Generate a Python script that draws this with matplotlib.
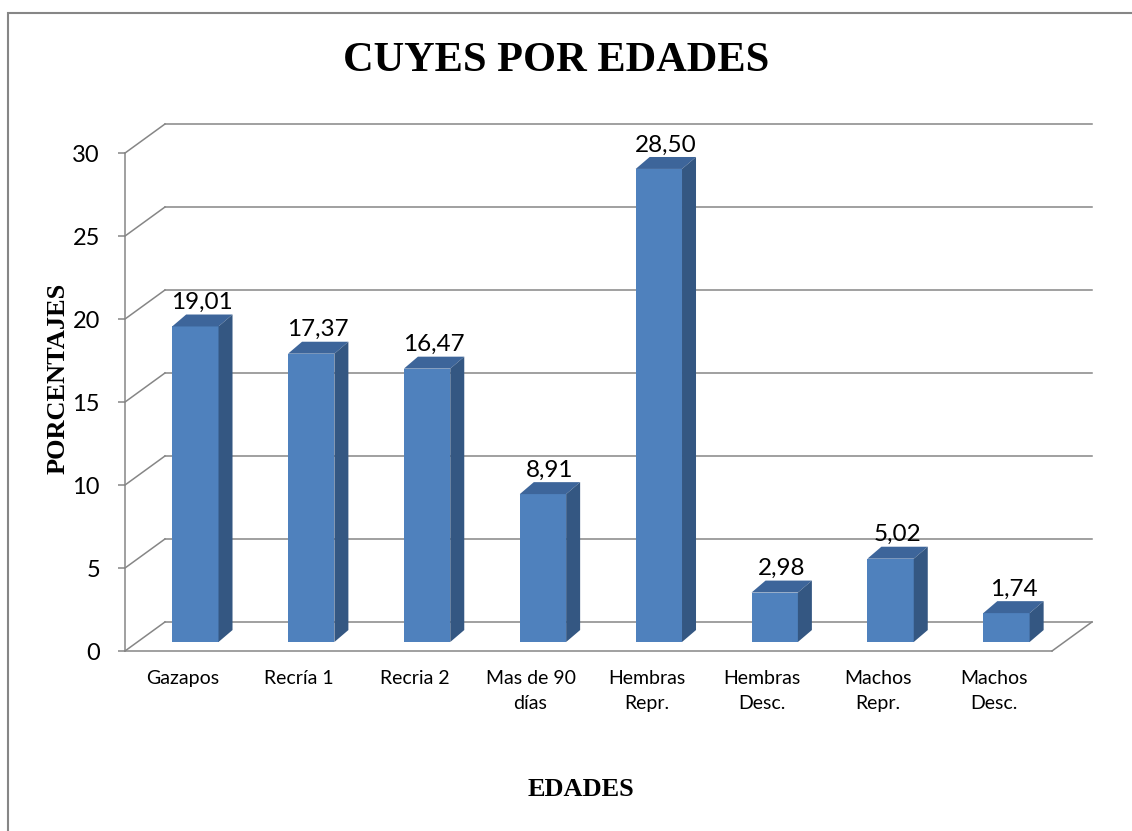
import matplotlib.pyplot as plt
from matplotlib.patches import Polygon, Rectangle

categorias = ["Gazapos", "Recría 1", "Recria 2", "Mas de 90\ndías", "Hembras\nRepr.",
              "Hembras\nDesc.", "Machos\nRepr.", "Machos\nDesc."]
porcentajes = [19.01, 17.37, 16.47, 8.91, 28.50, 2.98, 5.02, 1.74]
etiquetas = ["19,01", "17,37", "16,47", "8,91", "28,50", "2,98", "5,02", "1,74"]
marcas_y = [0, 5, 10, 15, 20, 25, 30]

GRIS = "#868686"
FRENTE = "#4f81bd"
TAPA = "#3d659a"
LADO = "#345782"

W, H = 1132, 831
fig = plt.figure(figsize=(W / 100, H / 100), dpi=100)

# marco exterior del grafico
fig.patches.append(Rectangle((8 / W, -0.01), 1.02, 1 - 13 / H + 0.01,
                             transform=fig.transFigure, fill=False,
                             edgecolor=GRIS, lw=1.5))

ax = fig.add_axes([125 / W, (H - 651) / H, (1092 - 125) / W, (651 - 124) / H])
n = len(categorias)
DX = 40 / 115.875   # profundidad de la pared (unidades de categoria)
DY = 1.75           # profundidad de la pared (unidades de valor)
ax.set_xlim(0, n + DX)
ax.set_ylim(0, 30 + DY)
for s in ax.spines.values():
    s.set_visible(False)

# pared del fondo, pared lateral y piso
for t in marcas_y:
    ax.plot([DX, n + DX], [t + DY, t + DY], color=GRIS, lw=1.1, clip_on=False)
    ax.plot([0, DX], [t, t + DY], color=GRIS, lw=1.1, clip_on=False)
ax.plot([0, n], [0, 0], color=GRIS, lw=1.1, clip_on=False)
ax.plot([n, n + DX], [0, DY], color=GRIS, lw=1.1, clip_on=False)
ax.plot([0, 0], [0, 30], color=GRIS, lw=1.1, clip_on=False)

# barras 3D
f = 0.31            # posicion de las barras dentro del piso
ancho = 0.4
bdx, bdy = 14 / 115.875, 0.72
x0s = [i + (1 - ancho) / 2 + f * DX for i in range(n)]
y0 = f * DY
ax.bar(x0s, porcentajes, width=ancho, bottom=y0, align="edge",
       color=FRENTE, zorder=3)
for x0, v, lab in zip(x0s, porcentajes, etiquetas):
    top = y0 + v
    ax.add_patch(Polygon([(x0, top), (x0 + ancho, top),
                          (x0 + ancho + bdx, top + bdy), (x0 + bdx, top + bdy)],
                         closed=True, facecolor=TAPA, edgecolor="none", zorder=3))
    ax.add_patch(Polygon([(x0 + ancho, y0), (x0 + ancho + bdx, y0 + bdy),
                          (x0 + ancho + bdx, top + bdy), (x0 + ancho, top)],
                         closed=True, facecolor=LADO, edgecolor="none", zorder=3))
    ax.annotate(lab, (x0 + (ancho + bdx) / 2, top + bdy), xytext=(0, 1),
                textcoords="offset points", ha="center", va="bottom",
                fontsize=17.5, family="Lato", zorder=4)

ax.set_yticks(marcas_y)
ax.set_yticklabels([str(t) for t in marcas_y], fontsize=17, family="Lato")
ax.tick_params(axis="y", length=5, width=1.1, color=GRIS, pad=13)
ax.set_xticks([i + 0.5 for i in range(n)])
ax.set_xticklabels(categorias, fontsize=14, family="Lato", linespacing=1.55)
ax.tick_params(axis="x", length=0, pad=14)

fig.text(556 / W, 1 - 61 / H, "CUYES POR EDADES", ha="center", va="center",
         fontsize=30.5, fontweight="bold", family="Liberation Serif")
fig.text(58 / W, 1 - 378 / H, "PORCENTAJES", ha="center", va="center",
         rotation=90, fontsize=19, fontweight="bold", family="Liberation Serif")
fig.text(581 / W, 1 - 789 / H, "EDADES", ha="center", va="center",
         fontsize=19, fontweight="bold", family="Liberation Serif")

fig.savefig("out.png", dpi=100)
